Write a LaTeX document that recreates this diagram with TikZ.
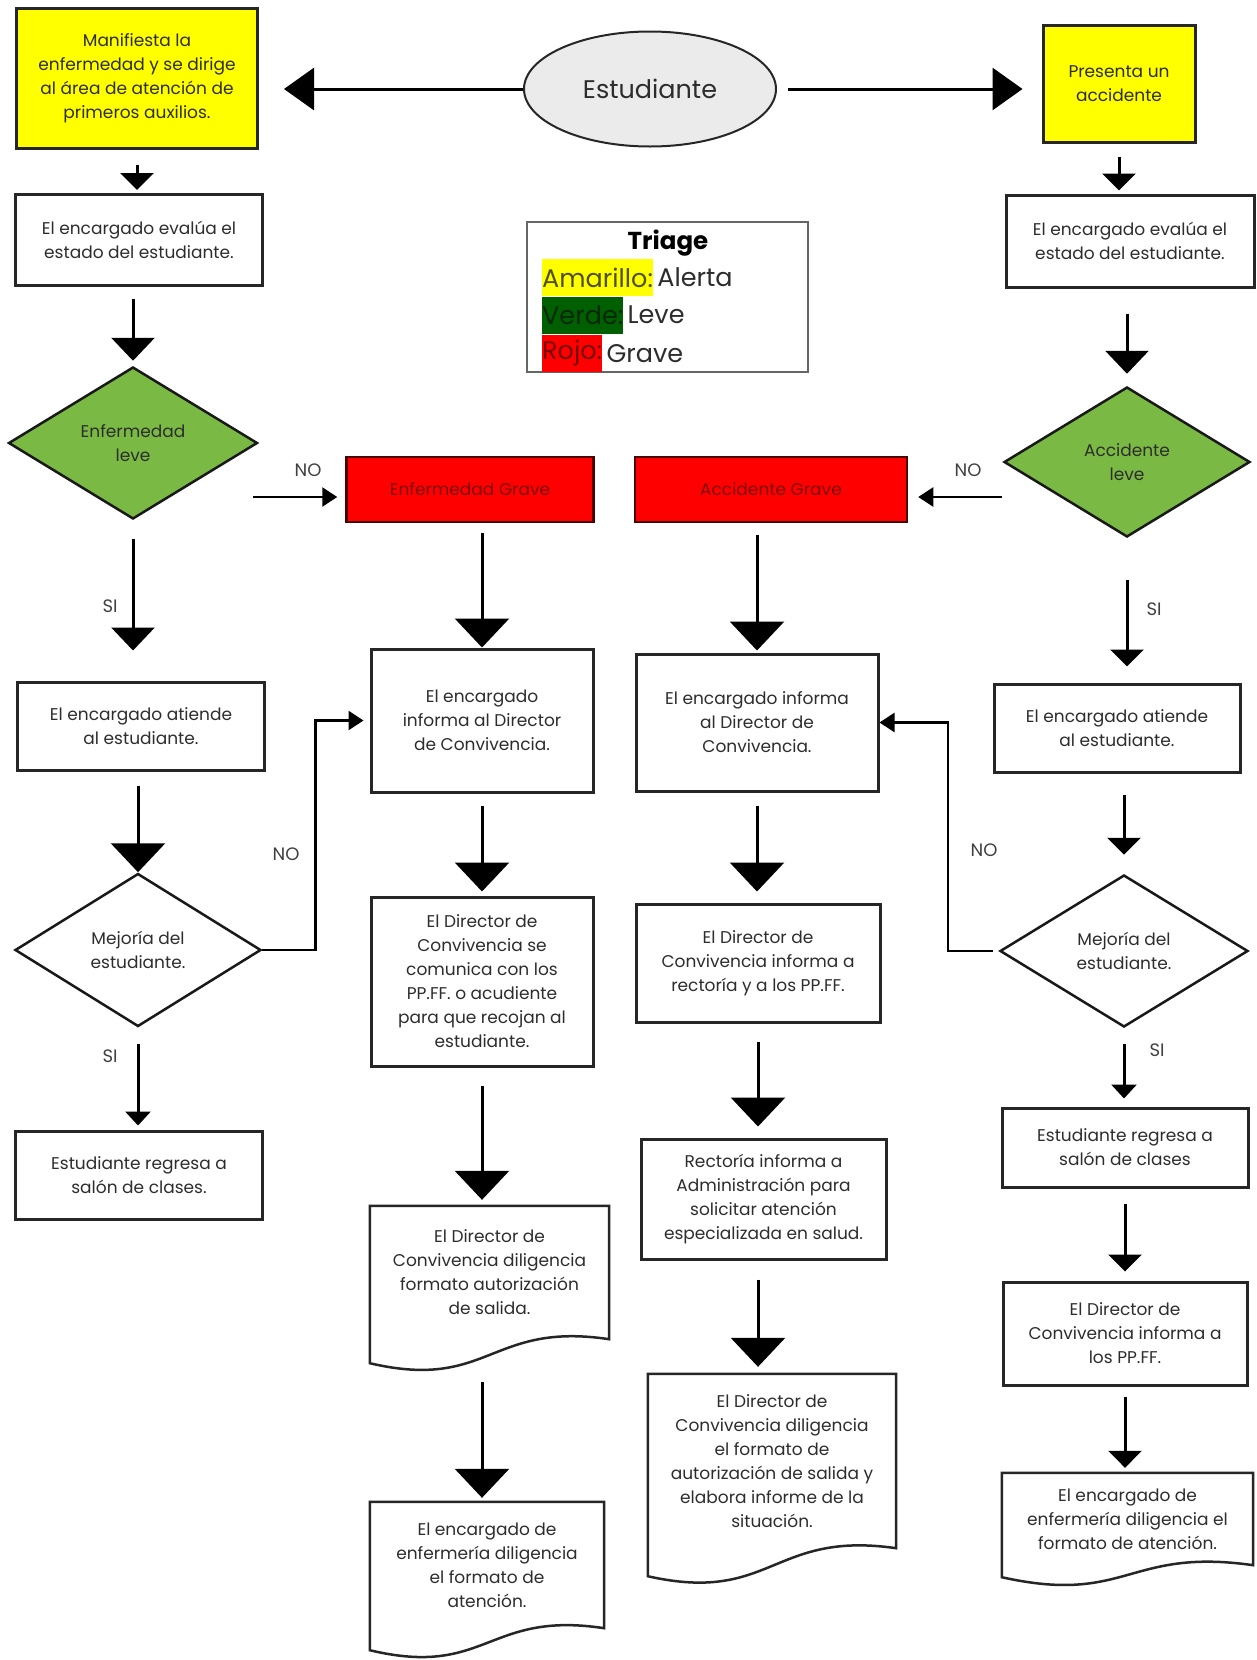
\documentclass[tikz,border=0pt]{standalone}
\usepackage{fontspec}
\setmainfont{Poppins}
\usepackage{tikz}
\usetikzlibrary{arrows.meta, positioning, calc, shapes.geometric}
\definecolor{amarillo}{RGB}{255,255,0}
\definecolor{verdeclaro}{RGB}{122,186,68}
\definecolor{verdeosc}{RGB}{0,95,0}
\definecolor{rojo}{RGB}{255,0,0}
\definecolor{rojotxt}{RGB}{125,10,10}
\definecolor{gris}{RGB}{235,235,235}
\definecolor{tinta}{RGB}{45,45,45}
\definecolor{amtxt}{RGB}{80,80,20}
\definecolor{vdtxt}{RGB}{10,40,10}
\definecolor{rjtxt}{RGB}{120,0,0}
\tikzset{
    every node/.style={font=\fontsize{17}{24}\selectfont, text=tinta},
    box/.style={draw=black!85, line width=3pt, fill=white, align=center, inner sep=4pt},
    yellowbox/.style={box, fill=amarillo},
    redbox/.style={box, fill=rojo, text=rojotxt, line width=2.5pt, draw=black!70!red},
    decision/.style={diamond, draw=black!90, line width=2.5pt, align=center, inner sep=0pt, shape aspect=1.6},
    docbox/.style={align=center, inner sep=4pt},
    link/.style={line width=3pt, draw=black},
    bigtip/.style={link, -{Triangle[length=29pt, width=54pt]}},
    midtip/.style={link, -{Triangle[length=23pt, width=43pt]}},
    smalltip/.style={link, -{Triangle[length=17pt, width=33pt]}},
    tinytip/.style={link, -{Triangle[length=14pt, width=25pt]}},
    sidetip/.style={link, -{Triangle[length=30pt, width=42pt]}},
    notip/.style={line width=2.5pt, draw=black, -{Triangle[length=15pt, width=19pt]}},
    answer/.style={font=\fontsize{18}{20}\selectfont, text=black!75},
    hl/.style={inner sep=0pt, minimum height=37pt, font=\fontsize{25.5}{28}\selectfont, anchor=west}
}

\begin{document}
\begin{tikzpicture}[x=1pt, y=-1pt]
    \useasboundingbox (0,0) rectangle (1257,1660);
    \fill[white] (0,0) rectangle (1257,1660);
    % Start
    \node[ellipse, draw=black!85, line width=2pt, fill=gris, minimum width=252pt, minimum height=115pt, font=\fontsize{25.5}{28}\selectfont] (est) at (650,89) {Estudiante};
    % Triage legend
    \node[draw=black!60, line width=2pt, minimum width=281pt, minimum height=150pt] (triage) at (667.5,297) {};
    \node[font=\bfseries\fontsize{24.5}{27}\selectfont, text=black] (ttl) at (668,243) {Triage};
    \node[hl, fill=amarillo, text=amtxt] (amar) at (542,277.5) {Amarillo:};
    \node[hl, right=4pt of amar] (alerta) {Alerta};
    \node[hl, fill=verdeosc, text=vdtxt] (verde) at (542,315) {Verde:};
    \node[hl, right=4pt of verde] (leve) {Leve};
    \node[hl, fill=rojo, text=rjtxt] (rojo) at (542,353.5) {Rojo:};
    \node[hl, right=4pt of rojo] (grave) {Grave};

    % Enfermedad
    \node[yellowbox, minimum width=241pt, minimum height=140pt] (sick) at (137,78) {Manifiesta la\\enfermedad y se dirige\\al área de atención de\\primeros auxilios.};
    \node[box, minimum width=247pt, minimum height=91pt] (eval1) at (139,240) {El encargado evalúa el\\estado del estudiante.};
    \node[decision, fill=verdeclaro, minimum width=249pt, minimum height=152pt] (leve1) at (133,443) {Enfermedad\\leve};
    \node[box, minimum width=247pt, minimum height=88pt] (attend1) at (141,726) {El encargado atiende\\al estudiante.};
    \node[decision, fill=white, minimum width=246pt, minimum height=153pt] (better1) at (138,950) {Mejoría del\\estudiante.};
    \node[box, minimum width=247pt, minimum height=88pt] (back1) at (139,1175) {Estudiante regresa a\\salón de clases.};

    % Enfermedad grave
    \node[redbox, minimum width=247pt, minimum height=65pt] (grave1) at (470,489.5) {Enfermedad Grave};
    \node[box, minimum width=222pt, minimum height=143pt] (inform1) at (482,720.5) {El encargado\\informa al Director\\de Convivencia.};
    \node[box, minimum width=222pt, minimum height=169pt] (call1) at (482,981.5) {El Director de\\Convivencia se\\comunica con los\\PP.FF. o acudiente\\para que recojan al\\estudiante.};
    \node[docbox, minimum width=239pt, minimum height=133pt] (exit1) at (489.5,1272.5) {El Director de\\Convivencia diligencia\\formato autorización\\de salida.};
    \node[docbox, minimum width=234pt, minimum height=126pt] (nurse1) at (487,1565) {El encargado de\\enfermería diligencia\\el formato de\\atención.};

    % Accidente grave
    \node[redbox, minimum width=272pt, minimum height=65pt] (grave2) at (771,489.5) {Accidente Grave};
    \node[box, minimum width=242pt, minimum height=137pt] (inform2) at (757,722.5) {El encargado informa\\al Director de\\Convivencia.};
    \node[box, minimum width=244pt, minimum height=118pt] (rector) at (758,963) {El Director de\\Convivencia informa a\\rectoría y a los PP.FF.};
    \node[box, minimum width=245pt, minimum height=120pt] (admin) at (763.5,1199) {Rectoría informa a\\Administración para\\solicitar atención\\especializada en salud.};
    \node[docbox, minimum width=248pt, minimum height=174pt] (exit2) at (772,1461) {El Director de\\Convivencia diligencia\\el formato de\\autorización de salida y\\elabora informe de la\\situación.};

    % Accidente
    \node[yellowbox, minimum width=152pt, minimum height=117pt] (accident) at (1119,83.5) {Presenta un\\accidente};
    \node[box, minimum width=248pt, minimum height=92pt] (eval2) at (1130,241) {El encargado evalúa el\\estado del estudiante.};
    \node[decision, fill=verdeclaro, minimum width=246pt, minimum height=150pt] (leve2) at (1127,462) {Accidente\\leve};
    \node[box, minimum width=246pt, minimum height=88pt] (attend2) at (1117,728) {El encargado atiende\\al estudiante.};
    \node[decision, fill=white, minimum width=248pt, minimum height=152pt] (better2) at (1124,951) {Mejoría del\\estudiante.};
    \node[box, minimum width=246pt, minimum height=79pt] (back2) at (1125,1147.5) {Estudiante regresa a\\salón de clases};
    \node[box, minimum width=244pt, minimum height=103pt] (parents) at (1125,1333.5) {El Director de\\Convivencia informa a\\los PP.FF.};
    \node[docbox, minimum width=251pt, minimum height=92pt] (nurse2) at (1127.5,1519) {El encargado de\\enfermería diligencia el\\formato de atención.};

    % Document outlines
    \foreach \doc/\rise in {exit1/24, nurse1/22, exit2/28, nurse2/12}
        \draw[black!85, line width=2.5pt] (\doc.north west) -- ($(\doc.south west)+(0,\rise)$)
            .. controls ($(\doc.south)+(0,\rise+28)$) and ($(\doc.south)+(0,-18)$) .. (\doc.south east)
            -- (\doc.north east) -- cycle;

    % Top arrows
    \draw[sidetip, shorten >=25pt] (est.west) -- (est.west -| sick.east);
    \draw[sidetip, shorten <=11pt, shorten >=19pt] (est.east) -- (est.east -| accident.west);

    % Left column
    \draw[smalltip, shorten <=15pt, shorten >=3pt] (sick.south) -- (sick.south |- eval1.north);
    \draw[midtip, shorten <=12pt, shorten >=5pt] (eval1.south -| leve1) -- (leve1.north);
    \draw[midtip, shorten <=19pt, shorten >=30pt] (leve1.south) -- (leve1.south |- attend1.north);
    \draw[bigtip, shorten <=14pt] (attend1.south -| better1) -- (better1.north);
    \draw[tinytip, shorten <=16pt, shorten >=4pt] (better1.south) -- (better1.south |- back1.north);

    % Enfermedad grave column
    \draw[bigtip, shorten <=10pt] (grave1.south -| inform1) -- (inform1.north);
    \draw[bigtip, shorten <=12pt, shorten >=4pt] (inform1.south) -- (call1.north);
    \draw[bigtip, shorten <=18pt, shorten >=6pt] (call1.south) -- (call1.south |- exit1.north);
    \draw[bigtip, shorten <=43pt, shorten >=4pt] (call1.south |- exit1.south) -- (call1.south |- nurse1.north);

    % Accidente grave column
    \draw[bigtip, shorten <=12pt, shorten >=2pt] (grave2.south -| inform2) -- (inform2.north);
    \draw[bigtip, shorten <=13pt, shorten >=11pt] (inform2.south) -- (inform2.south |- rector.north);
    \draw[bigtip, shorten <=18pt, shorten >=11pt] (rector.south) -- (rector.south |- admin.north);
    \draw[bigtip, shorten <=19pt, shorten >=7pt] (admin.south -| rector) -- (rector |- exit2.north);

    % Right column
    \draw[smalltip, shorten <=13pt, shorten >=3pt] (accident.south) -- (accident.south |- eval2.north);
    \draw[midtip, shorten <=25pt, shorten >=12pt] (eval2.south -| leve2) -- (leve2.north);
    \draw[smalltip, shorten <=42pt, shorten >=16pt] (leve2.south) -- (leve2.south |- attend2.north);
    \draw[smalltip, shorten <=21pt, shorten >=19pt] (attend2.south -| better2) -- (better2.north);
    \draw[tinytip, shorten <=16pt, shorten >=8pt] (better2.south) -- (better2.south |- back2.north);
    \draw[smalltip, shorten <=15pt, shorten >=9pt] (back2.south) -- (back2.south |- parents.north);
    \draw[smalltip, shorten <=10pt, shorten >=5pt] (parents.south) -- (parents.south |- nurse2.north);

    % NO branches
    \coordinate (no1) at (253,497);
    \coordinate (no2) at (1002,497);
    \draw[notip, shorten >=8pt] (no1) -- (no1 -| grave1.west);
    \draw[notip, shorten >=10pt] (no2) -- (no2 -| grave2.east);
    \draw[notip, shorten >=6pt] (better1.east) -- ++(53,0) |- (inform1.west);
    \draw[notip, shorten <=6pt] (better2.west) -- ++(-51,0) |- (inform2.east);

    % Labels
    \node[answer] (no_left) at (308,470) {NO};
    \node[answer] (no_right) at (968,470) {NO};
    \node[answer] (no_loop1) at (286,854) {NO};
    \node[answer] (no_loop2) at (984,850) {NO};
    \node[answer] (si_left1) at (110,606) {SI};
    \node[answer] (si_left2) at (110,1056) {SI};
    \node[answer] (si_right1) at (1154,609) {SI};
    \node[answer] (si_right2) at (1157,1050) {SI};
\end{tikzpicture}
\end{document}
